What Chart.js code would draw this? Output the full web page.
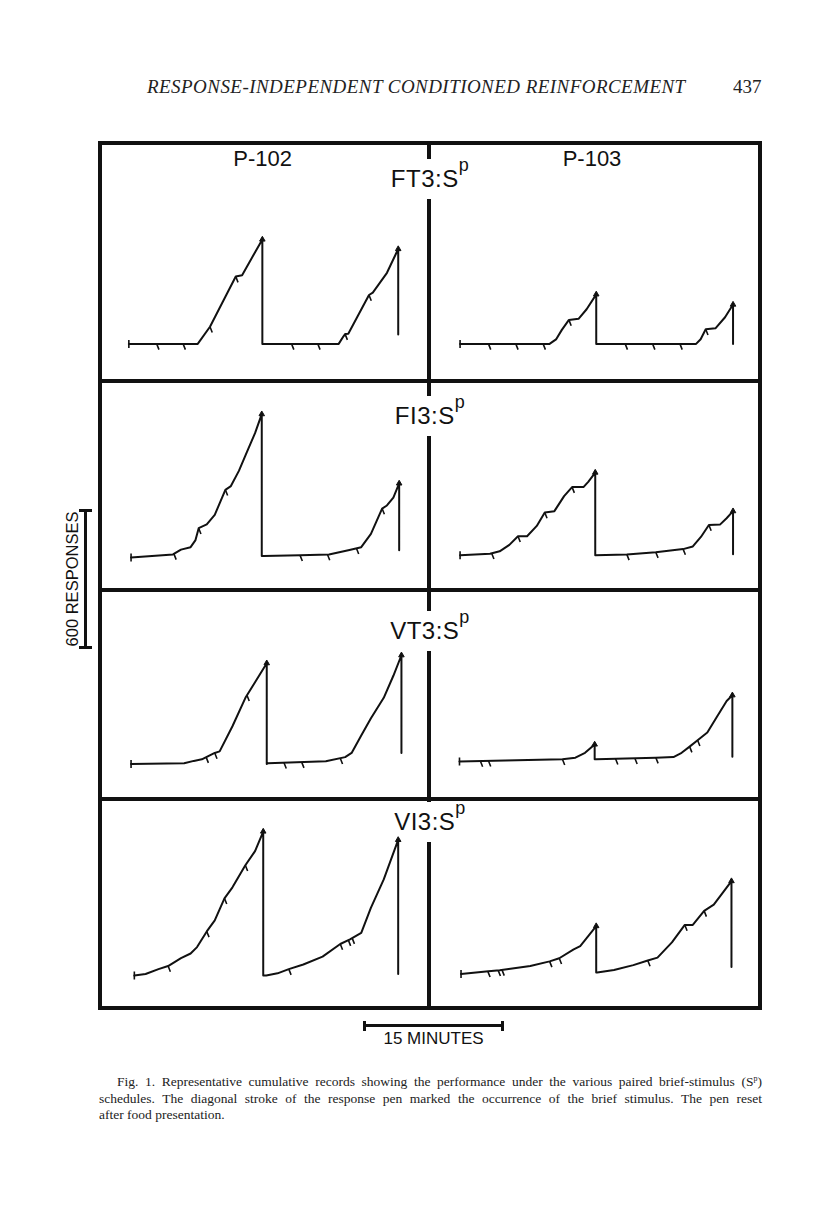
<!DOCTYPE html>
<html><head><meta charset="utf-8">
<script src="https://cdn.jsdelivr.net/npm/chart.js@4.4.1/dist/chart.umd.min.js"></script>
<style>
html,body{margin:0;padding:0;background:#fff;}
body{width:816px;height:1207px;position:relative;overflow:hidden;}
.blk{position:absolute;background:#111;z-index:1;}
.lab{position:absolute;font-family:"Liberation Sans",Arial,sans-serif;color:#111;white-space:nowrap;z-index:2;}
.cond{background:#fff;font-size:24px;line-height:40px;height:40px;padding:0 3px;transform:translateX(-50%);letter-spacing:0.5px;}
.cond sup{font-size:18px;position:relative;top:-16px;vertical-align:baseline;line-height:0;}
.subj{font-size:22px;line-height:30px;transform:translateX(-50%);}
canvas{position:absolute;z-index:3;}
.hdr{position:absolute;font-family:"Liberation Serif","Times New Roman",serif;color:#222;white-space:nowrap;}
.cap{position:absolute;left:99px;width:663px;font-family:"Liberation Serif","Times New Roman",serif;font-size:13.5px;line-height:16.5px;color:#222;}
.cap div{text-align:justify;text-align-last:justify;white-space:nowrap;}
.cap sup{font-size:8px;line-height:0;}
</style></head><body>
<div class="hdr" style="left:147px;top:76px;font-size:19px;line-height:22px;font-style:italic;letter-spacing:0.45px;">RESPONSE-INDEPENDENT CONDITIONED REINFORCEMENT</div>
<div class="hdr" style="left:733px;top:76px;font-size:19px;line-height:22px;">437</div>

<div class="cap" style="top:1074px;">
  <div style="padding-left:18px;">Fig. 1. Representative cumulative records showing the performance under the various paired brief-stimulus (S<sup>p</sup>)</div>
  <div>schedules. The diagonal stroke of the response pen marked the occurrence of the brief stimulus. The pen reset</div>
  <div style="text-align:left;text-align-last:left;">after food presentation.</div>
</div>
<div id="root"></div>
<script>
// ---------------- categories / labels ----------------
const subjects = ["P-102", "P-103"];
const schedules = ["FT3", "FI3", "VT3", "VI3"];
const yScaleLabel = "600 RESPONSES";
const xScaleLabel = "15 MINUTES";
const yScaleValue = 600;   // responses
const xScaleValue = 15;    // minutes

// ---------------- cumulative records (x = minutes, y = responses) ----------------
// FT3:Sp
const P102_FT_min  = [0, 7.59, 8.94, 11.78, 12.48, 13.72, 14.71, 14.71, 23.12, 23.65, 23.83, 24.18, 26.46, 26.88, 28.44, 29.68, 29.68];
const P102_FT_resp = [0, 0, 77, 303, 309, 399, 470, 0, 0, 34, 44, 46, 220, 231, 320, 427, 42];
const P102_FT_stim = [3.07, 5.98, 8.94, 11.78, 17.93, 20.82, 23.83, 26.46];

const P103_FT_min  = [0, 9.86, 10.57, 11.21, 11.99, 13.05, 13.94, 15.0, 15.0, 26.0, 26.5, 27.06, 28.13, 29.19, 30.07, 30.07];
const P103_FT_resp = [0, 0, 20, 63, 108, 113, 156, 223, 0, 0, 21, 66, 70, 120, 177, 0];
const P103_FT_stim = [3.13, 6.14, 9.15, 11.99, 18.19, 21.21, 24.22, 27.06];

// FI3:Sp
const P102_FI_min  = [0, 4.62, 5.5, 6.56, 7.1, 7.45, 8.34, 9.22, 10.39, 11.0, 11.88, 12.77, 13.66, 14.4, 14.4, 14.62, 18.62, 21.81, 23.94, 25.36, 26.43, 27.66, 28.19, 28.9, 29.54, 29.54];
const P102_FI_resp = [0, 14, 36, 47, 79, 133, 150, 193, 307, 324, 393, 479, 564, 650, 7, 7, 10, 14, 33, 47, 107, 222, 236, 272, 336, 33];
const P102_FI_stim = [4.72, 7.45, 10.39, 18.62, 21.64, 24.83, 27.66];

const P103_FI_min  = [0, 3.3, 4.36, 5.43, 6.38, 7.38, 8.45, 9.33, 10.39, 11.46, 12.34, 13.59, 14.12, 14.89, 14.89, 18.37, 21.56, 24.57, 25.64, 26.53, 27.41, 28.66, 29.36, 30.07, 30.07];
const P103_FI_resp = [0, 7, 18, 47, 86, 86, 133, 194, 200, 268, 309, 309, 333, 375, 0, 4, 14, 28, 40, 83, 137, 140, 168, 200, 5];
const P103_FI_stim = [3.48, 6.38, 9.33, 12.34, 18.37, 21.56, 24.57, 27.41];

// VT3:Sp
const P102_VT_min  = [0, 5.85, 6.91, 7.8, 8.51, 9.22, 9.76, 11.17, 12.6, 13.66, 14.95, 14.95, 15.07, 21.46, 23.59, 24.3, 25.36, 26.43, 27.84, 28.9, 29.79, 29.79];
const P102_VT_resp = [0, 3, 14, 21, 36, 50, 57, 171, 300, 371, 457, 0, 3, 12, 31, 50, 129, 207, 300, 400, 493, 50];
const P102_VT_stim = [8.27, 9.22, 12.77, 16.85, 18.8, 23.05];

const P103_VT_min  = [0, 11.34, 12.77, 13.83, 14.89, 14.89, 15.06, 21.63, 23.57, 24.47, 25.35, 26.23, 27.3, 28.36, 29.43, 30.06, 30.06];
const P103_VT_resp = [0, 10, 17, 39, 77, 10, 10, 17, 20, 39, 67, 96, 131, 203, 274, 300, 21];
const P103_VT_stim = [2.3, 3.19, 11.34, 17.19, 19.32, 21.63, 25.35, 26.23];

// VI3:Sp
const P102_VI_min  = [0, 1.24, 2.66, 3.72, 5.14, 6.2, 6.91, 7.98, 8.86, 9.93, 10.81, 12.23, 13.3, 14.2, 14.2, 14.53, 15.78, 17.02, 18.62, 20.74, 22.69, 23.76, 25.0, 26.06, 27.48, 29.07, 29.07];
const P102_VI_resp = [0, 7, 29, 43, 79, 100, 129, 200, 250, 350, 400, 500, 564, 653, 0, 0, 10, 29, 50, 86, 143, 164, 193, 307, 436, 615, 7];
const P102_VI_stim = [3.72, 7.98, 9.93, 12.23, 17.02, 22.69, 23.58, 24.0];

const P103_VI_min  = [0, 3.02, 4.26, 7.63, 9.76, 10.82, 12.41, 13.13, 14.01, 14.89, 14.89, 15.0, 16.85, 18.98, 20.57, 21.64, 23.23, 24.65, 25.53, 26.78, 27.84, 28.9, 29.79, 29.79];
const P103_VI_resp = [0, 12, 17, 36, 57, 71, 111, 126, 171, 217, 7, 7, 18, 40, 61, 74, 143, 222, 222, 286, 314, 372, 421, 31];
const P103_VI_stim = [2.95, 4.09, 4.51, 9.76, 10.82, 20.57, 24.65, 26.78];

const records = [
  [[P102_FT_min, P102_FT_resp, P102_FT_stim], [P103_FT_min, P103_FT_resp, P103_FT_stim]],
  [[P102_FI_min, P102_FI_resp, P102_FI_stim], [P103_FI_min, P103_FI_resp, P103_FI_stim]],
  [[P102_VT_min, P102_VT_resp, P102_VT_stim], [P103_VT_min, P103_VT_resp, P103_VT_stim]],
  [[P102_VI_min, P102_VI_resp, P102_VI_stim], [P103_VI_min, P103_VI_resp, P103_VI_stim]]
];

// ---------------- layout (page pixels) ----------------
const PX_PER_MIN = 9.4;
const PX_PER_RESP = 0.2333;
const frame = {left: 98, top: 141, right: 762, bottom: 1010, lw: 4};
const centerX = 427, centerW = 4;
const dividers = [379, 588, 797];
const colLeft = [102, 431], colRight = [427, 758];
const rowTop = [145, 383, 592, 801], rowBottom = [379, 588, 797, 1006];
const originX = [[124, 455.3], [126.3, 455.3], [126.3, 454.7], [129.7, 456.3]];
const baseY   = [[348, 348], [561.7, 559.3], [768, 765.3], [979.7, 978]];
const condTop = [158.7, 395.5, 611.4, 801.5];
const condX = 430;

function box(l, t, w, h) {
  const d = document.createElement('div');
  d.className = 'blk';
  d.style.cssText = `left:${l}px;top:${t}px;width:${w}px;height:${h}px;`;
  document.body.appendChild(d);
  return d;
}
// frame
box(frame.left, frame.top, frame.right - frame.left, frame.lw);
box(frame.left, frame.bottom - frame.lw, frame.right - frame.left, frame.lw);
box(frame.left, frame.top, frame.lw, frame.bottom - frame.top);
box(frame.right - frame.lw, frame.top, frame.lw, frame.bottom - frame.top);
box(centerX, frame.top, centerW, frame.bottom - frame.top);
dividers.forEach(y => box(frame.left, y, frame.right - frame.left, 4));

// subject labels
subjects.forEach((s, i) => {
  const d = document.createElement('div');
  d.className = 'lab subj';
  d.style.left = (i === 0 ? 262.7 : 592) + 'px';
  d.style.top = '144px';
  d.textContent = s;
  document.body.appendChild(d);
});
// schedule labels
schedules.forEach((s, r) => {
  const d = document.createElement('div');
  d.className = 'lab cond';
  d.style.left = condX + 'px';
  d.style.top = condTop[r] + 'px';
  d.innerHTML = s + ':S<sup>p</sup>';
  document.body.appendChild(d);
});

// scale bars (lengths from the chart scale)
const yBarLen = yScaleValue * PX_PER_RESP, yBarTop = 509;
box(84, yBarTop, 3, yBarLen);
box(79, yBarTop, 13, 3);
box(79, yBarTop + yBarLen - 3, 13, 3);
const yl = document.createElement('div');
yl.className = 'lab';
yl.style.cssText = `left:${71.5-90}px;top:${yBarTop + yBarLen/2 - 10}px;width:180px;height:20px;line-height:20px;text-align:center;font-size:16.5px;transform:rotate(-90deg);`;
yl.textContent = yScaleLabel;
document.body.appendChild(yl);

const xBarLen = xScaleValue * PX_PER_MIN, xBarLeft = 363;
box(xBarLeft, 1024, xBarLen, 2.5);
box(xBarLeft, 1020.5, 3, 10);
box(xBarLeft + xBarLen - 3, 1020.5, 3, 10);
const xl = document.createElement('div');
xl.className = 'lab';
xl.style.cssText = `left:${xBarLeft + xBarLen/2 + 0}px;top:1029px;line-height:20px;font-size:17px;transform:translateX(-50%);`;
xl.textContent = xScaleLabel;
document.body.appendChild(xl);

// helpers
function interp(xs, ys, t) {
  for (let i = 0; i < xs.length - 1; i++) {
    if (xs[i + 1] > xs[i] && t >= xs[i] && t <= xs[i + 1]) {
      return ys[i] + (ys[i + 1] - ys[i]) * (t - xs[i]) / (xs[i + 1] - xs[i]);
    }
  }
  return 0;
}
const STROKE_DX = 0.25, STROKE_DY = 26;

records.forEach((row, r) => {
  row.forEach(([xs, ys, stim], c) => {
    const w = colRight[c] - colLeft[c], h = rowBottom[r] - rowTop[r];
    const cv = document.createElement('canvas');
    cv.width = w; cv.height = h;
    cv.style.left = colLeft[c] + 'px';
    cv.style.top = rowTop[r] + 'px';
    document.body.appendChild(cv);

    const recPts = xs.map((x, i) => ({x, y: ys[i]}));
    const stimPts = [];
    stim.forEach(t => {
      const y = interp(xs, ys, t);
      stimPts.push({x: t, y}, {x: t + STROKE_DX, y: y - STROKE_DY}, {x: t + STROKE_DX, y: null});
    });
    const food = [];
    for (let i = 0; i < xs.length - 1; i++) {
      if (xs[i + 1] === xs[i] && ys[i + 1] < ys[i]) food.push({x: xs[i], y: ys[i]});
    }
    const xmin = -(originX[r][c] - colLeft[c]) / PX_PER_MIN;
    const ymin = -(rowBottom[r] - baseY[r][c]) / PX_PER_RESP;
    new Chart(cv, {
      type: 'scatter',
      data: {datasets: [
        {data: recPts, showLine: true, borderColor: '#111', borderWidth: 2, pointRadius: 0,
         tension: 0, borderJoinStyle: 'round', borderCapStyle: 'round'},
        {data: stimPts, showLine: true, spanGaps: false, borderColor: '#111', borderWidth: 1.6, pointRadius: 0},
        {data: food, pointStyle: 'triangle', pointRadius: 3.2, backgroundColor: '#111', borderColor: '#111', borderWidth: 1},
        {data: [recPts[0]], pointStyle: 'line', rotation: 90, pointRadius: 4, borderColor: '#111', borderWidth: 1.6}
      ]},
      options: {
        responsive: false, animation: false, events: [],
        layout: {padding: 0},
        plugins: {legend: {display: false}, tooltip: {enabled: false}},
        scales: {
          x: {type: 'linear', display: false, min: xmin, max: xmin + w / PX_PER_MIN},
          y: {type: 'linear', display: false, min: ymin, max: ymin + h / PX_PER_RESP}
        }
      }
    });
  });
});
</script>
</body></html>
